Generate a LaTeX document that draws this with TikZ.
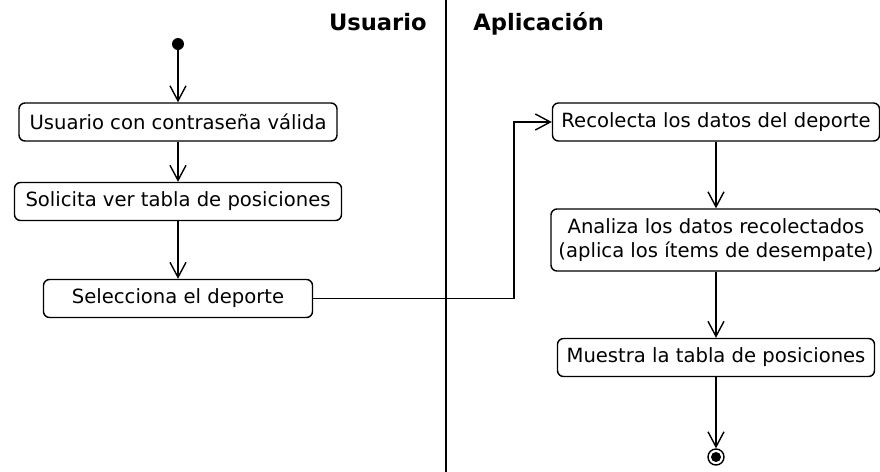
\documentclass[tikz,border=0pt]{standalone}
\usepackage{fontspec}
\setmainfont{DejaVu Sans}
\usetikzlibrary{arrows.meta}

\tikzset{
  accion/.style={draw, rounded corners=3pt, line width=0.7pt, inner sep=0pt,
    minimum height=19pt, align=center, font=\fontsize{9.8}{11.8}\selectfont},
  flujo/.style={line width=0.7pt, -{Straight Barb[length=7.5pt,width=8pt]}},
  carril/.style={inner sep=0pt, font=\bfseries\fontsize{11.3}{13}\selectfont}
}

\begin{document}
\begin{tikzpicture}[x=0.5pt, y=-0.5pt]
    \useasboundingbox (0,0) rectangle (880,472);

    % Carriles
    \coordinate (sup) at (446,0); \coordinate (inf) at (446,472);
    \draw[line width=0.8pt] (sup) -- (inf);
    \node[carril, anchor=base east] (usr) at (427,30) {Usuario};
    \node[carril, anchor=base west] (app) at (473,30) {Aplicación};

    % Usuario
    \node[circle, fill, inner sep=0pt, minimum size=6pt] (ini) at (178,44) {};
    \node[accion, minimum width=159pt] (a1) at (178,122) {Usuario con contraseña válida};
    \node[accion, minimum width=163.5pt] (a2) at (178,201.5) {Solicita ver tabla de posiciones};
    \node[accion, minimum width=134.5pt] (a3) at (178,298.5) {Selecciona el deporte};

    % Aplicacion
    \node[accion, minimum width=163.5pt] (b1) at (716,122) {Recolecta los datos del deporte};
    \node[accion, minimum width=165pt, minimum height=31pt] (b2) at (716,240)
        {Analiza los datos recolectados\\(aplica los ítems de desempate)};
    \node[accion, minimum width=158.5pt] (b3) at (716,357.5) {Muestra la tabla de posiciones};
    \node[circle, draw, line width=0.7pt, inner sep=0pt, minimum size=8pt] (fin) at (716,457) {};
    \fill (fin) circle (2.5pt);

    \coordinate (codo) at (514,298.5);
    \draw[flujo] (a3.east) -- (codo) |- (b1.west); % Cambio de carril

    \foreach \a/\b in {ini/a1,a1/a2,a2/a3,b1/b2,b2/b3,b3/fin}
        \draw[flujo] (\a) -- (\b);
\end{tikzpicture}
\end{document}
